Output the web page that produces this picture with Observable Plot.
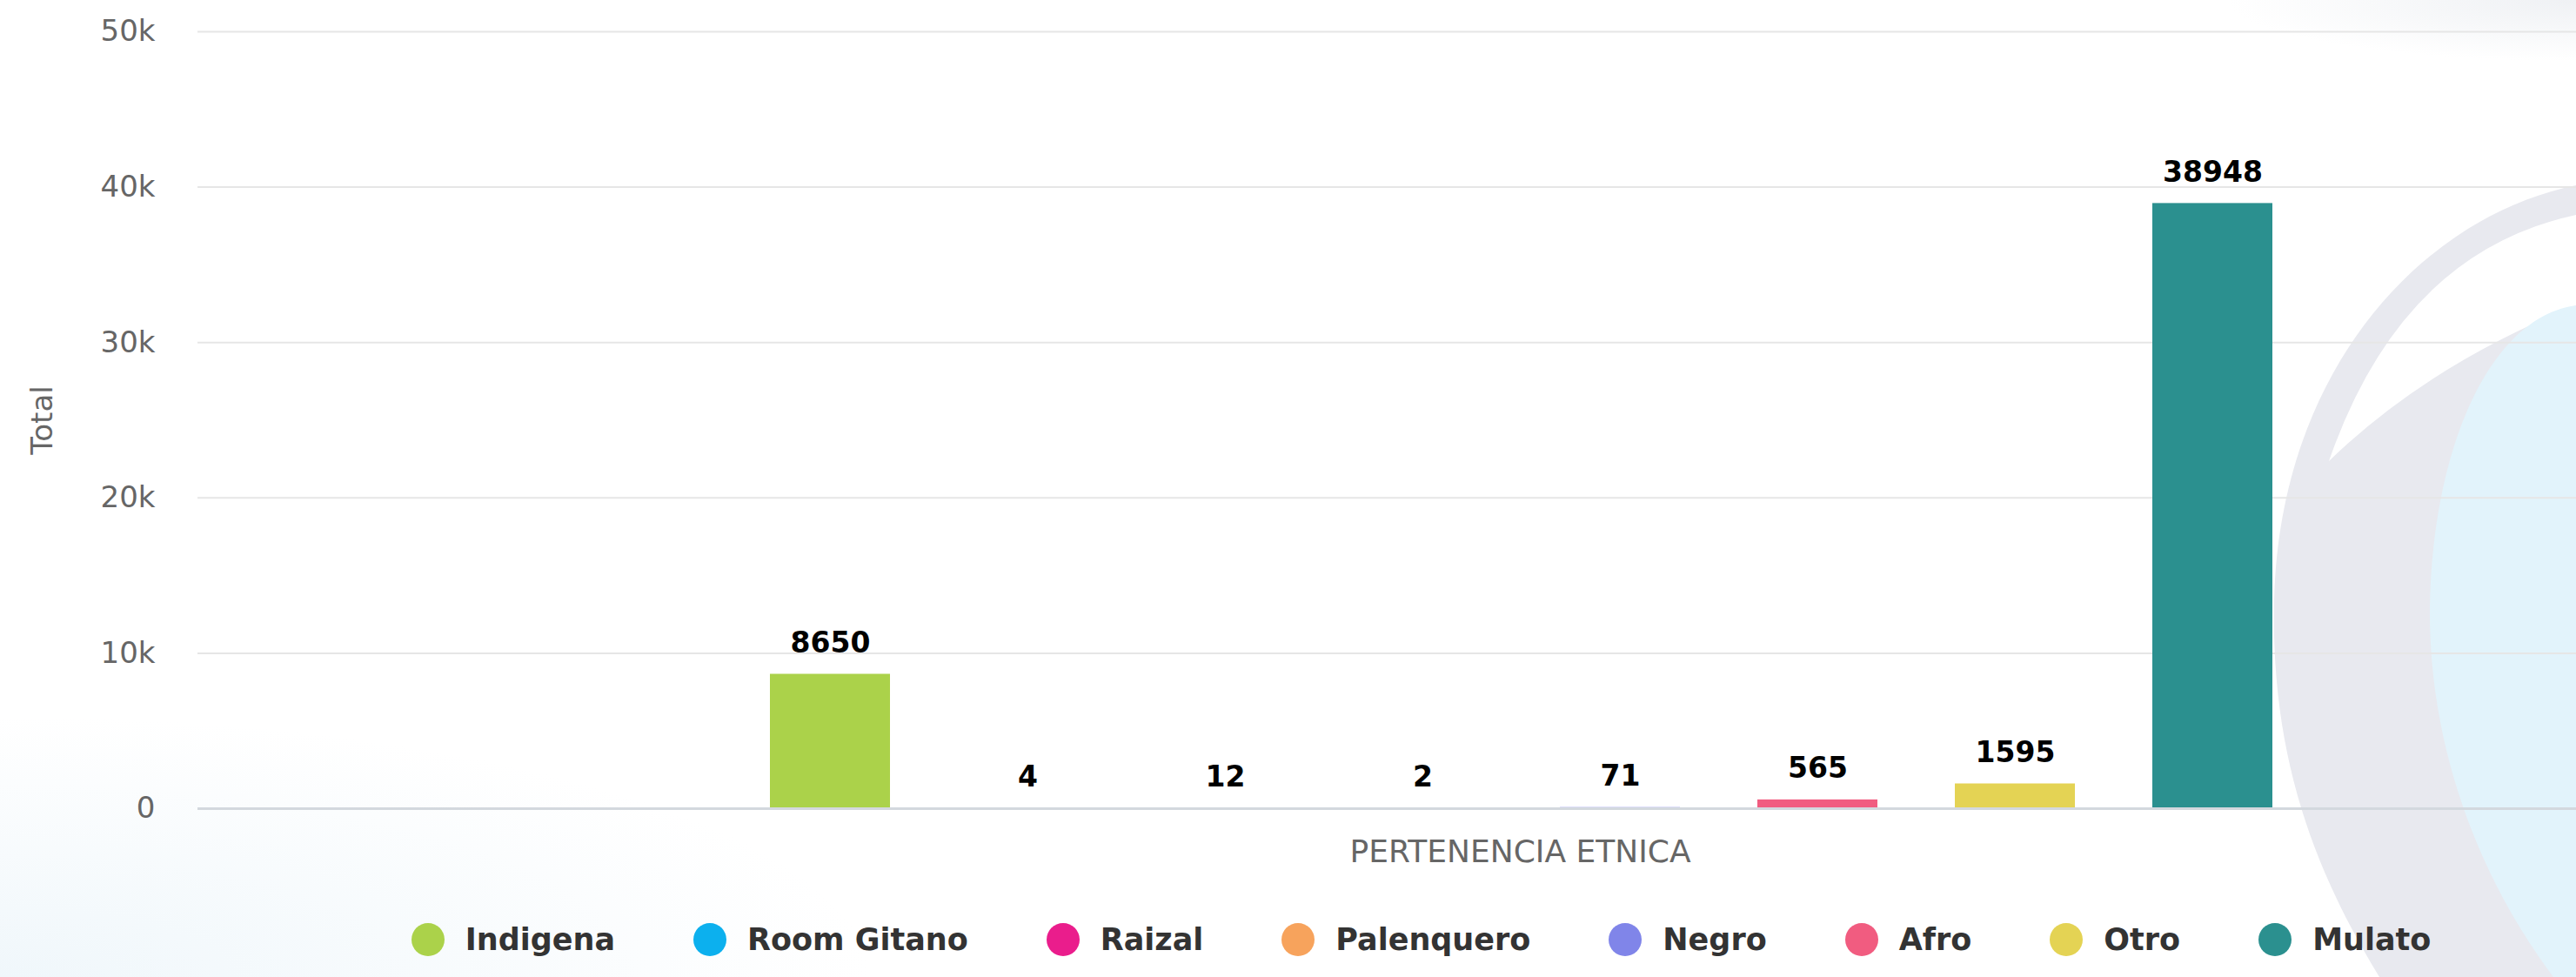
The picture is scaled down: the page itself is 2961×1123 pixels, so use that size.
<!DOCTYPE html>
<html><head><meta charset="utf-8">
<script src="https://cdn.jsdelivr.net/npm/d3@7"></script>
<script src="https://cdn.jsdelivr.net/npm/@observablehq/plot@0.6"></script>
<style>
html,body{margin:0;padding:0;overflow:hidden;background:#fff;}
#page{position:relative;width:2961px;height:1123px;overflow:hidden;font-family:"DejaVu Sans",sans-serif;
  background:
    radial-gradient(ellipse 1000px 300px at 0px 1123px, #f0f7fb 0%, rgba(255,255,255,0) 100%),
    radial-gradient(ellipse 400px 70px at 2961px 0px, #eff1f4 0%, rgba(255,255,255,0) 100%),
    #fff;}
#bg{position:absolute;left:0;top:0;z-index:0;}
#chart{position:relative;z-index:1;width:3267px;}
#legend{position:relative;z-index:1;width:3267px;height:100px;display:flex;justify-content:center;align-items:center;gap:90px;}
.item{display:flex;align-items:center;gap:24px;font-weight:bold;font-size:35px;color:#333;white-space:nowrap;}
.dot{width:38px;height:38px;border-radius:50%;flex:none;}
</style></head>
<body><div id="page">
<svg id="bg" width="2961" height="1123">
  <path d="M 2961 213 C 2780 250 2620 430 2614 690 C 2610 870 2660 1000 2735 1123 L 2961 1123 Z" fill="#e8e9ef"/>
  <path d="M 2961 247 Q 2760 290 2677 530 Q 2790 420 2961 351 Z" fill="#ffffff"/>
  <path d="M 2961 351 C 2860 365 2795 520 2793 700 C 2792 860 2850 1010 2935 1123 L 2961 1123 Z" fill="#e2f3fb"/>
</svg>
<div id="chart"></div>
<div id="legend"></div>
</div>
<script>
const categories = ["Indigena","Room Gitano","Raizal","Palenquero","Negro","Afro","Otro","Mulato"];
const values = [8650, 4, 12, 2, 71, 565, 1595, 38948];
const colors = ["#abd24a","#0cb0ee","#ea1d8c","#f7a35c","#8085e9","#f15c80","#e4d354","#2b908f"];
const yTicks = [0, 10000, 20000, 30000, 40000, 50000];
const yTickLabels = ["0", "10k", "20k", "30k", "40k", "50k"];
const yTitle = "Total";
const xTitle = "PERTENENCIA ETNICA";

const data = categories.map((c, i) => ({cat: c, value: values[i]}));
const tickLabel = new Map(yTicks.map((t, i) => [t, yTickLabels[i]]));

const chart = Plot.plot({
  width: 3267,
  height: 1030,
  marginTop: 36,
  marginBottom: 101,
  marginLeft: 227,
  marginRight: 0,
  style: "max-width:none;background:transparent;font-family:'DejaVu Sans',sans-serif;overflow:visible;",
  x: {domain: categories, range: [837, 2659], paddingInner: 0.394, paddingOuter: 0.197, axis: null},
  y: {domain: [0, 50000], axis: null},
  color: {domain: categories, range: colors},
  marks: [
    Plot.gridY(yTicks.slice(1), {stroke: "#e6e6e6", strokeOpacity: 1, strokeWidth: 2}),
    Plot.axisY({ticks: yTicks, tickFormat: d => tickLabel.get(d), tickSize: 0, tickPadding: 49,
      fontSize: 34, color: "#666", label: yTitle, labelAnchor: "center", labelOffset: 192, labelArrow: "none"}),
    Plot.axisX({ticks: [], tickSize: 0, label: xTitle, labelAnchor: "center", labelOffset: 61,
      labelArrow: "none", fontSize: 36, color: "#666"}),
    Plot.barY(data, {x: "cat", y: "value", fill: "cat"}),
    Plot.ruleY([0], {stroke: "#d3d8de", strokeWidth: 3}),
    Plot.text(data, {x: "cat", y: "value", text: d => String(d.value), lineAnchor: "bottom", dy: -25,
      fontSize: 33, fontWeight: "bold", fill: "#000"})
  ]
});
document.getElementById("chart").appendChild(chart);

const legend = document.getElementById("legend");
categories.forEach((c, i) => {
  const item = document.createElement("div");
  item.className = "item";
  const dot = document.createElement("span");
  dot.className = "dot";
  dot.style.background = colors[i];
  const label = document.createElement("span");
  label.textContent = c;
  item.appendChild(dot);
  item.appendChild(label);
  legend.appendChild(item);
});
</script>
</body></html>
